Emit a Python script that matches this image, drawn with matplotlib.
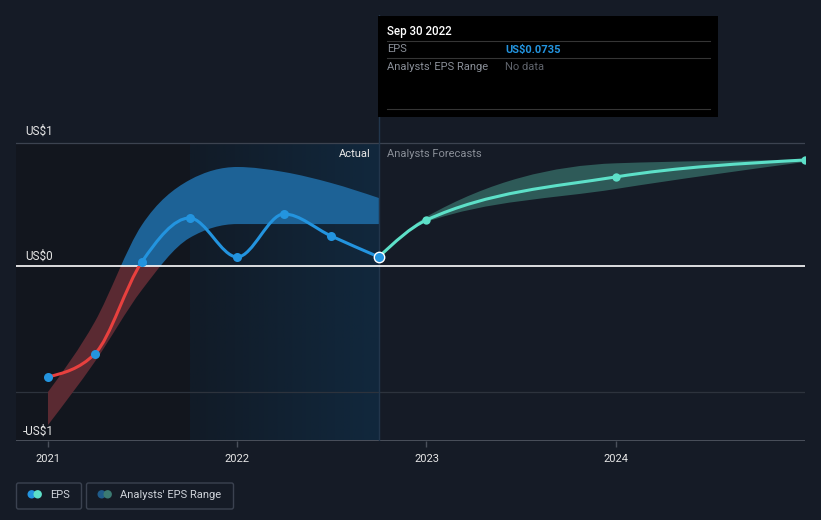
import numpy as np
import matplotlib
matplotlib.use('Agg')
import matplotlib.pyplot as plt
from matplotlib.path import Path
from matplotlib.patches import PathPatch, Rectangle, FancyBboxPatch, Circle

plt.rcParams['font.family'] = ['Roboto', 'DejaVu Sans']

# quarterly actual EPS (fractional years)
actual_x = [2021.0, 2021.247, 2021.496, 2021.748, 2022.0, 2022.247, 2022.496, 2022.748]
actual_eps = [-0.902, -0.715, 0.033, 0.390, 0.073, 0.423, 0.244, 0.0735]
# shaded band around actuals
band_hi = [-1.024, -0.455, 0.333, 0.699, 0.805, 0.764, 0.675, 0.553]
band_lo = [-1.293, -0.780, -0.195, 0.228, 0.341, 0.341, 0.341, 0.341]

# analysts forecast (starts from last actual)
fc_x = [2022.748, 2023.0, 2024.0, 2025.0]
fc_eps = [0.0735, 0.374, 0.724, 0.862]
fc_hi = [0.0735, 0.400, 0.835, 0.862]
fc_lo = [0.0735, 0.358, 0.626, 0.846]

year_ticks = [2021, 2022, 2023, 2024]
tip_date = 'Sep 30 2022'
tip_eps = 'US$0.0735'

BG = '#151b26'
BLUE = '#2394df'
RED = '#e8403e'
TEAL = '#5de0c8'
W, H = 821, 520


def mono_verts(x, y):
    # monotone cubic (like d3 curveMonotoneX) as bezier vertices
    x = np.asarray(x, float)
    y = np.asarray(y, float)
    n = len(x)
    h = np.diff(x)
    s = np.diff(y) / h
    m = np.zeros(n)
    for i in range(1, n - 1):
        s0, s1, h0, h1 = s[i - 1], s[i], h[i - 1], h[i]
        p = (s0 * h1 + s1 * h0) / (h0 + h1)
        m[i] = (np.sign(s0) + np.sign(s1)) * min(abs(s0), abs(s1), 0.5 * abs(p))
    m[0] = (3 * s[0] - m[1]) / 2 if n > 2 else s[0]
    m[-1] = (3 * s[-1] - m[-2]) / 2 if n > 2 else s[-1]
    verts = [(x[0], y[0])]
    for i in range(n - 1):
        d = h[i] / 3
        verts += [(x[i] + d, y[i] + m[i] * d), (x[i + 1] - d, y[i + 1] - m[i + 1] * d), (x[i + 1], y[i + 1])]
    return verts


def line_path(x, y):
    v = mono_verts(x, y)
    return Path(v, [Path.MOVETO] + [Path.CURVE4] * (len(v) - 1))


def band_path(x, hi, lo):
    vu = mono_verts(x, hi)
    vl = mono_verts(x, lo)[::-1]
    verts = vu + vl + [vu[0]]
    codes = [Path.MOVETO] + [Path.CURVE4] * (len(vu) - 1) + [Path.LINETO] + [Path.CURVE4] * (len(vl) - 1) + [Path.CLOSEPOLY]
    return Path(verts, codes)


fig = plt.figure(figsize=(W / 100, H / 100), dpi=100, facecolor=BG)
ax = fig.add_axes([16 / W, 1 - 441 / H, (805 - 16) / W, (441 - 15) / H])
ax.set_facecolor(BG)
x0, x1 = 2020.831, 2025.0
y0, y1 = -1.4228, 2.0407
for sp in ax.spines.values():
    sp.set_visible(False)
ax.set_yticks([])

# past / last-year shading
hl_start = actual_x[-1] - 1.0
ax.add_patch(Rectangle((x0, y0), hl_start - x0, 1.0 - y0, facecolor='#12161e', edgecolor='none', zorder=0))
grad = np.linspace(0, 1, 64).reshape(1, -1)
cmap = matplotlib.colors.LinearSegmentedColormap.from_list('hl', ['#111b27', '#11283d'])
ax.imshow(grad, cmap=cmap, extent=[hl_start, actual_x[-1], y0, 1.0], aspect='auto', zorder=0.5)
ax.set_xlim(x0, x1)
ax.set_ylim(y0, y1)

# grid
ax.axhline(1.0, color='#3c4350', lw=0.9, zorder=1)
ax.axhline(-1.025, color='#2d333d', lw=0.9, zorder=1)
ax.axhline(y0, color='#4a505b', lw=1.4, zorder=1)
ax.axvline(actual_x[-1], ymin=0, ymax=1, color='#22364c', lw=1, zorder=1)

pos = Rectangle((x0, 0), x1 - x0, y1, transform=ax.transData)
neg = Rectangle((x0, y0), x1 - x0, -y0, transform=ax.transData)

# actual band
bp = band_path(actual_x, band_hi, band_lo)
p1 = PathPatch(bp, facecolor='#1d6296', edgecolor='none', zorder=2)
ax.add_patch(p1)
p1.set_clip_path(pos)
p2 = PathPatch(bp, facecolor='#5a2a32', edgecolor='none', zorder=2)
ax.add_patch(p2)
p2.set_clip_path(neg)

# forecast band
ax.add_patch(PathPatch(band_path(fc_x, fc_hi, fc_lo), facecolor='#2e5a58', edgecolor='none', zorder=2))

ax.axhline(0, color='white', lw=1.2, zorder=3)

# actual line
lp = line_path(actual_x, actual_eps)
l1 = PathPatch(lp, fill=False, edgecolor=BLUE, lw=2.2, zorder=4, capstyle='round')
ax.add_patch(l1)
l1.set_clip_path(pos)
l2 = PathPatch(lp, fill=False, edgecolor=RED, lw=2.2, zorder=4, capstyle='round')
ax.add_patch(l2)
l2.set_clip_path(neg)
ax.plot(actual_x[:-1], actual_eps[:-1], 'o', color=BLUE, ms=6.5, mew=0, zorder=5)

# forecast line
ax.add_patch(PathPatch(line_path(fc_x, fc_eps), fill=False, edgecolor=TEAL, lw=2.2, zorder=4))
ax.plot(fc_x[1:], fc_eps[1:], 'o', color=TEAL, ms=6, mew=0, zorder=5)
ax.plot(actual_x[-1:], actual_eps[-1:], 'o', color=BLUE, ms=7.5, mec='white', mew=1, zorder=6)

# x axis
ax.set_xticks(year_ticks)
ax.set_xticklabels([str(t) for t in year_ticks])
ax.tick_params(axis='x', colors='#4a505b', length=4, width=1, labelcolor='#e6e6e6', labelsize=8, pad=5)

# overlay in pixel coordinates
ov = fig.add_axes([0, 0, 1, 1])
ov.set_xlim(0, W)
ov.set_ylim(H, 0)
ov.axis('off')
ov.patch.set_alpha(0)

tc = '#e6e6e6'
ov.text(25, 131, 'US$1', color=tc, fontsize=8.5, va='center')
ov.text(25, 256, 'US$0', color=tc, fontsize=8.5, va='center')
ov.text(23, 431, '-US$1', color=tc, fontsize=8.5, va='center')

ov.text(371, 154, 'Actual', color='#e8e8e8', fontsize=8, ha='right', va='center')
ov.text(387, 154, 'Analysts Forecasts', color='#8a8f98', fontsize=8, ha='left', va='center')

# tooltip
ov.add_patch(Rectangle((378, 16), 340, 101, facecolor='black', edgecolor='none', zorder=10))
for yy in [41, 58, 109]:
    ov.plot([387, 710], [yy, yy], color='#353535', lw=0.8, zorder=11)
ov.text(387, 31, tip_date, color='white', fontsize=8.3, fontweight='medium', va='center', zorder=12)
ov.text(387, 49.5, 'EPS', color='#8a8f98', fontsize=8, va='center', zorder=12)
ov.text(505, 49.5, tip_eps, color=BLUE, fontsize=8, fontweight='bold', va='center', zorder=12)
ov.text(387, 66.5, "Analysts' EPS Range", color='#8a8f98', fontsize=8, va='center', zorder=12)
ov.text(505, 66.5, 'No data', color='#5f636b', fontsize=8, va='center', zorder=12)

# legend
for bx, bw in [(16.5, 65), (86.5, 147)]:
    ov.add_patch(FancyBboxPatch((bx, 483), bw, 26, boxstyle='round,pad=0,rounding_size=2',
                                facecolor='none', edgecolor='#3b4250', lw=1))
ov.add_patch(Circle((31.7, 494.3), 4.2, color=BLUE, lw=0))
ov.add_patch(Circle((37.7, 494.3), 4.2, color=TEAL, lw=0))
ov.text(50, 494.5, 'EPS', color='#cfd3da', fontsize=8, va='center')
ov.add_patch(Circle((101.7, 494.3), 4.2, color='#1f5b8a', lw=0))
ov.add_patch(Circle((107.7, 494.3), 4.2, color='#3b7a72', lw=0))
ov.text(120.5, 494.5, "Analysts' EPS Range", color='#cfd3da', fontsize=8, va='center')

fig.savefig('out.png', dpi=100, facecolor=BG)
